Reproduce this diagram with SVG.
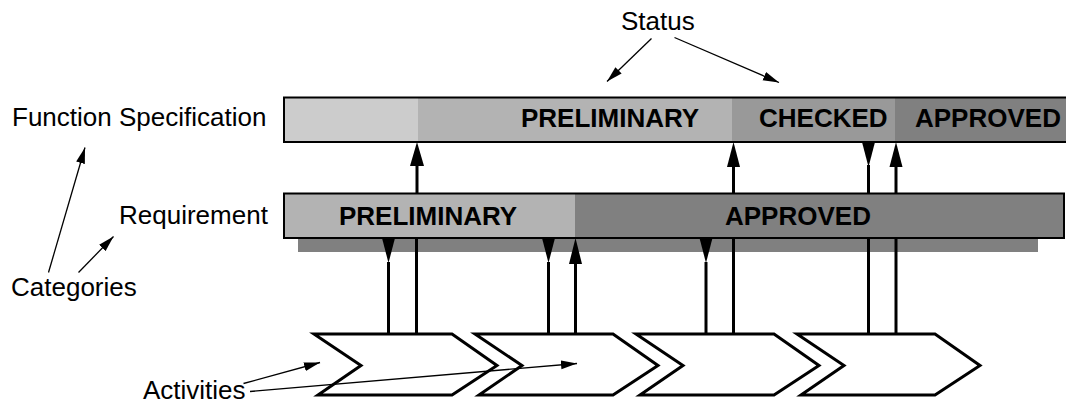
<svg xmlns="http://www.w3.org/2000/svg" width="1066" height="403" viewBox="0 0 1066 403">
  <style>
    .lbl { font-family: "Liberation Sans", Arial, sans-serif; font-size: 26px; fill: #000; }
    .st { font-family: "Liberation Sans", Arial, sans-serif; font-size: 26px; font-weight: bold; fill: #000; }
    .frame { fill: none; stroke: #000; stroke-width: 2; }
    .act { fill: #fff; stroke: #000; stroke-width: 3; stroke-linejoin: miter; }
    .flow { stroke: #000; stroke-width: 3; fill: none; }
    .head { fill: #000; stroke: none; }
    .thin { stroke: #000; stroke-width: 1.3; fill: none; marker-end: url(#ah); }
  </style>
  <defs>
    <marker id="ah" markerUnits="userSpaceOnUse" markerWidth="17" markerHeight="10" refX="16" refY="5" orient="auto">
      <path d="M0,0.5 L16,5 L0,9.5 z" fill="#000"/>
    </marker>
  </defs>

  <rect width="1066" height="403" fill="#fff"/>

  <!-- Category labels -->
  <g id="label-function-spec">
    <text class="lbl" x="12" y="126">Function Specification</text>
  </g>
  <g id="label-requirement">
    <text class="lbl" x="119" y="224">Requirement</text>
  </g>
  <g id="label-categories">
    <text class="lbl" x="11" y="296">Categories</text>
  </g>
  <g id="label-status">
    <text class="lbl" x="621" y="30">Status</text>
  </g>
  <g id="label-activities">
    <text class="lbl" x="143" y="399">Activities</text>
  </g>

  <!-- Function specification status bar -->
  <g id="function-spec-bar">
    <rect x="284" y="97.5" width="134" height="44.5" fill="#cccccc"/>
    <rect x="418" y="97.5" width="314" height="44.5" fill="#b3b3b3"/>
    <rect x="732" y="97.5" width="163" height="44.5" fill="#999999"/>
    <rect x="895" y="97.5" width="175" height="44.5" fill="#808080"/>
    <rect class="frame" x="284" y="97.5" width="786" height="44.5"/>
    <text class="st" x="521" y="127">PRELIMINARY</text>
    <text class="st" x="759" y="127">CHECKED</text>
    <text class="st" x="915" y="127">APPROVED</text>
  </g>

  <!-- Requirement status bar with drop shadow -->
  <g id="requirement-bar">
    <rect x="298" y="238" width="740" height="14" fill="#808080"/>
    <rect x="284" y="193.5" width="291" height="44.5" fill="#b3b3b3"/>
    <rect x="575" y="193.5" width="489" height="44.5" fill="#808080"/>
    <rect class="frame" x="284" y="193.5" width="780" height="44.5"/>
    <text class="st" x="339" y="225">PRELIMINARY</text>
    <text class="st" x="725" y="225">APPROVED</text>
  </g>

  <!-- Activity chevrons -->
  <g id="activity-1">
    <polygon class="act" points="314,334 452,334 497,365.5 452,395 318,395 361,365.5"/>
  </g>
  <g id="activity-2">
    <polygon class="act" points="475,334 613,334 658,365.5 613,395 479,395 522,365.5"/>
  </g>
  <g id="activity-3">
    <polygon class="act" points="636,334 774,334 819,365.5 774,395 640,395 683,365.5"/>
  </g>
  <g id="activity-4">
    <polygon class="act" points="797,334 935,334 980,365.5 935,395 801,395 844,365.5"/>
  </g>

  <!-- Connectors -->
  <g id="connectors">
    <!-- activities to requirement -->
    <line class="flow" x1="388.5" y1="262" x2="388.5" y2="334"/>
    <polygon class="head" points="382,238 395,238 388.5,263"/>
    <line class="flow" x1="416.5" y1="239" x2="416.5" y2="334"/>
    <line class="flow" x1="548.5" y1="262" x2="548.5" y2="334"/>
    <polygon class="head" points="542,238 555,238 548.5,263"/>
    <line class="flow" x1="575.5" y1="263" x2="575.5" y2="334"/>
    <polygon class="head" points="575.5,238 582,264 569,264"/>
    <line class="flow" x1="706" y1="262" x2="706" y2="334"/>
    <polygon class="head" points="699.5,238 712.5,238 706,263"/>
    <line class="flow" x1="733.5" y1="239" x2="733.5" y2="334"/>
    <line class="flow" x1="868.5" y1="239" x2="868.5" y2="334"/>
    <line class="flow" x1="896" y1="239" x2="896" y2="334"/>

    <!-- requirement to function specification -->
    <line class="flow" x1="417" y1="165" x2="417" y2="193"/>
    <polygon class="head" points="417,142 424,166 410,166"/>
    <line class="flow" x1="733.5" y1="166" x2="733.5" y2="193"/>
    <polygon class="head" points="733.5,142 740,167 727,167"/>
    <line class="flow" x1="868.5" y1="165" x2="868.5" y2="193"/>
    <polygon class="head" points="862,142 875,142 868.5,167"/>
    <line class="flow" x1="896" y1="166" x2="896" y2="193"/>
    <polygon class="head" points="896,142 902.5,167 889.5,167"/>

    <!-- annotation pointers -->
    <line class="thin" x1="651.5" y1="38.5" x2="607" y2="81.5"/>
    <line class="thin" x1="674.5" y1="37.5" x2="779" y2="82.5"/>
    <line class="thin" x1="48.5" y1="272.5" x2="85" y2="147.5"/>
    <line class="thin" x1="78.5" y1="272.5" x2="113.5" y2="236.5"/>
    <line class="thin" x1="243.5" y1="383.5" x2="320" y2="362.5"/>
    <line class="thin" x1="250" y1="391.5" x2="577" y2="363.5"/>
  </g>
</svg>
